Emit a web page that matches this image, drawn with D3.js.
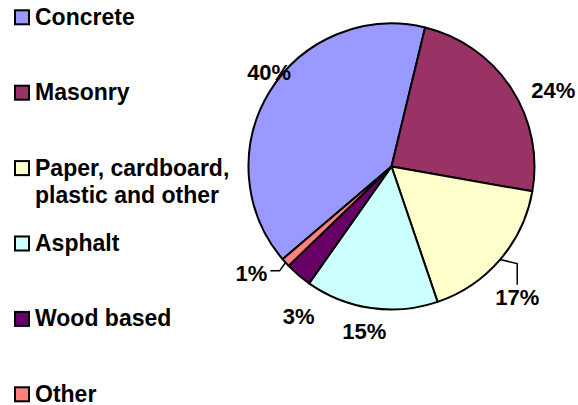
<!DOCTYPE html>
<html>
<head>
<meta charset="utf-8">
<script src="https://cdn.jsdelivr.net/npm/d3@7/dist/d3.min.js"></script>
<style>
  html, body { margin: 0; padding: 0; background: #ffffff; }
  svg { display: block; }
  text { font-family: Arial, "Liberation Sans", Helvetica, sans-serif; font-weight: bold; fill: #000; }
</style>
</head>
<body>
<svg id="chart" width="578" height="405"></svg>
<script>
// Composition of the waste stream, in percent
const categories = ["Concrete", "Masonry", "Paper, cardboard, plastic and other", "Asphalt", "Wood based", "Other"];
const legendLines = [["Concrete"], ["Masonry"], ["Paper, cardboard,", "plastic and other"], ["Asphalt"], ["Wood based"], ["Other"]];
const shares = [40, 24, 17, 15, 3, 1];
const colors = ["#9999FF", "#993366", "#FFFFCC", "#CCFFFF", "#660066", "#FF8080"];

// Where each percentage label sits: angular nudge (deg) from the slice middle and distance in pie radii
const labelPlacement = [
  { dAngle: 6, dist: 1.08 },
  { dAngle: 8, dist: 1.25 },
  { dAngle: 5.6, dist: 1.27 },
  { dAngle: 1.2, dist: 1.17 },
  { dAngle: -8.7, dist: 1.23 },
  { dAngle: 5, dist: 1.23 }
];
// Slices whose label is tied back to the pie by a leader line
const withLeader = [false, false, true, false, false, true];

const W = 578, H = 405;
const cx = 391.5, cy = 166.5, R = 143;
const deg = Math.PI / 180;
const start = -130.4 * deg;

const svg = d3.select("#chart");

const pie = d3.pie().sort(null).value(d => d).startAngle(start).endAngle(start + 2 * Math.PI);
const arcs = pie(shares);
const arc = d3.arc().innerRadius(0).outerRadius(R);

const g = svg.append("g").attr("transform", `translate(${cx},${cy})`);

g.selectAll("path.slice")
  .data(arcs)
  .join("path")
  .attr("class", "slice")
  .attr("d", arc)
  .attr("fill", (d, i) => colors[i])
  .attr("stroke", "#000")
  .attr("stroke-width", 2)
  .attr("stroke-linejoin", "round");

const polar = (a, r) => [r * Math.sin(a), -r * Math.cos(a)];
const labelSize = 22, legendSize = 23;
const capHalf = labelSize * 0.716 / 2;

arcs.forEach((d, i) => {
  const mid = (d.startAngle + d.endAngle) / 2;
  const p = labelPlacement[i];
  const [lx, ly] = polar(mid + p.dAngle * deg, R * p.dist);
  const label = g.append("text")
    .attr("x", lx)
    .attr("y", ly + capHalf)
    .attr("text-anchor", "middle")
    .style("font-size", labelSize + "px")
    .text(d3.format(".0f")(d.data) + "%");

  if (withLeader[i]) {
    const [ex, ey] = polar(mid, R);
    const bw = label.node().getComputedTextLength();
    let pts;
    if (lx < ex) {
      // label to the left: line runs out horizontally to the label's right side
      const tx = lx + bw / 2 + 3;
      pts = [[ex, ey], [ex - 6, ly - 2], [tx, ly - 2]];
    } else {
      // label below: bracket down onto the label top
      const ty = ly - capHalf - 5;
      pts = [[ex, ey], [lx, ey + 4], [lx, ty]];
    }
    g.append("path")
      .attr("d", d3.line()(pts))
      .attr("fill", "none")
      .attr("stroke", "#000")
      .attr("stroke-width", 1.5);
  }
});

// Legend
const legend = svg.append("g").attr("class", "legend");
const legendTop = 9.3, legendStep = 75.4, boxSize = 14;
legendLines.forEach((lines, i) => {
  const y0 = legendTop + i * legendStep;
  legend.append("rect")
    .attr("x", 15).attr("y", y0 + 1)
    .attr("width", boxSize).attr("height", boxSize)
    .attr("fill", colors[i])
    .attr("stroke", "#000")
    .attr("stroke-width", 2);
  const t = legend.append("text")
    .attr("x", 35)
    .attr("y", y0 + 15.5)
    .style("font-size", legendSize + "px");
  lines.forEach((line, k) => {
    t.append("tspan").attr("x", 35).attr("dy", k === 0 ? 0 : 27.7).text(line);
  });
});
</script>
</body>
</html>
